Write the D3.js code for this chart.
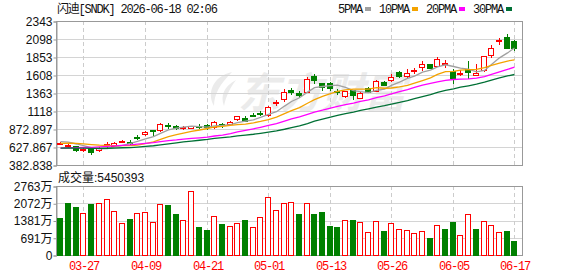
<!DOCTYPE html>
<html>
<head>
<meta charset="utf-8">
<script src="https://cdn.jsdelivr.net/npm/d3@7"></script>
<style>
  body { margin: 0; background: #fff; }
  svg text { font-family: "Liberation Sans", "Noto Sans CJK SC", sans-serif; font-size: 12px; }
  svg text.mono { font-family: "Liberation Mono", "Noto Sans CJK SC", monospace; letter-spacing: -1.2px; }
</style>
</head>
<body>
<div id="chart"></div>
<script>
// SNDK daily k-line, 60 sessions
const title = "闪迪[SNDK] 2026-06-18 02:06"

const dates = ["03-24","03-25","03-26","03-27","03-30","03-31","04-01","04-02","04-06","04-07",
  "04-08","04-09","04-10","04-13","04-14","04-15","04-16","04-17","04-20","04-21",
  "04-22","04-23","04-24","04-27","04-28","04-29","04-30","05-01","05-04","05-05",
  "05-06","05-07","05-08","05-11","05-12","05-13","05-14","05-15","05-18","05-19",
  "05-20","05-21","05-22","05-26","05-27","05-28","05-29","06-01","06-02","06-03",
  "06-04","06-05","06-08","06-09","06-10","06-11","06-12","06-15","06-16","06-17"]

const opens = [673,637,641,592,610,587,658,641,707,700, 768,809,859,855,932,918,897,891,917,923,
  900,935,941,1013,1027,1070,1092,1059,1227,1280, 1410,1365,1383,1590,1495,1495,1385,1318,1400,1299,
  1427,1390,1513,1536,1645,1592,1672,1721,1754,1735, 1769,1662,1630,1694,1612,1672,1880,2075,2125,2071]
const highs = [696,669,648,621,618,628,696,696,727,727, 795,842,866,955,959,932,914,918,941,937,
  975,955,982,1054,1050,1095,1118,1186,1268,1413, 1425,1385,1581,1617,1503,1510,1422,1395,1410,1372,
  1440,1535,1522,1626,1660,1686,1707,1799,1762,1853, 1812,1686,1672,1799,1754,1872,2016,2107,2162,2078]
const lows = [662,632,580,573,537,567,632,635,700,665, 733,791,795,846,891,873,877,884,886,877,
  893,900,927,1000,980,1050,1057,1050,1196,1250, 1350,1315,1370,1503,1400,1400,1345,1310,1277,1290,
  1372,1385,1468,1530,1585,1586,1635,1680,1700,1728, 1721,1503,1604,1571,1605,1665,1853,2026,1975,1944]
const closes = [682,655,591,597,564,614,672,686,716,692, 760,836,840,941,923,882,902,910,906,896,
  968,922,968,1050,986,1063,1084,1172,1235,1370, 1375,1340,1553,1544,1445,1437,1376,1390,1332,1367,
  1381,1526,1476,1581,1590,1635,1680,1754,1707,1822, 1772,1563,1638,1645,1640,1867,1971,2085,1980,1971]

// closes before the window, only needed so the moving averages start where the picture does
const priorCloses = [598,615,630,622,640,618,605,595,610,587, 570,552,538,520,509,531,548,560,547,585,
  618,642,655,668,697, 690,712,716,700]

// volume in shares
const volumes = [14940000,20820000,19220000,16700000,20420000,20700000,22420000,17500000,12690000,14410000,
  16700000,17100000,13090000,20300000,20020000,16420000,13890000,25630000,11210000,10010000,
  15500000,12410000,11490000,12690000,14010000,11090000,15100000,23100000,18020000,20700000,
  21100000,16420000,20700000,16420000,17220000,11610000,11210000,13890000,14010000,13090000,
  9090000,13490000,9610000,12690000,10290000,9890000,8690000,9490000,6810000,11890000,
  10410000,13210000,7890000,16300000,10410000,13490000,11890000,9090000,9610000,5450393]

const priceTicks = [2343, 2098, 1853, 1608, 1363, 1118, 872.897, 627.867, 382.838]
const priceTickLabels = ["2343","2098","1853","1608","1363","1118","872.897","627.867","382.838"]
const volTicks = [0, 6907500, 13815000, 20722500, 27630000]
const volTickLabels = ["0","691万","1381万","2072万","2763万"]
const dateTicks = ["03-27","04-09","04-21","05-01","05-13","05-26","06-05","06-17"]

const maPeriods = [5, 10, 20, 30]
const maNames = ["5PMA", "10PMA", "20PMA", "30PMA"]
const maColors = ["#a0a0a0", "#f4a300", "#ff00ff", "#007035"]

const red = "#ff0000", green = "#008000"
const width = 578, height = 276
const left = 56, right = 522
const priceTop = 21, priceBottom = 165
const volTop = 186, volBottom = 255

const svg = d3.select("#chart").append("svg")
    .attr("width", width)
    .attr("height", height)

const x = d3.scaleBand().domain(dates).range([56.5, 518.2])
const y = d3.scaleLinear().domain([382.838, 2343]).range([priceBottom, priceTop])
const yVol = d3.scaleLinear().domain([0, 27630000]).range([volBottom, volTop])
const cx = d => Math.round(x(d) + x.bandwidth() / 2) + 0.5

// watermark (logo swoosh + name)
let wm = svg.append("g").attr("fill", "#ebebeb")
wm.append("path")
    .attr("d", "M232,72 C214,76 206,92 214,106 C214,94 220,84 232,72 Z M236,80 C224,86 220,96 224,106 C226,96 230,88 236,80 Z")
wm.append("text")
    .attr("x", 238).attr("y", 108)
    .style("font-size", "42px").style("font-weight", "bold").style("font-style", "italic")
    .text("东方财富")

// horizontal grid
svg.append("g")
    .selectAll("line").data(priceTicks).enter().append("line")
    .attr("x1", left).attr("x2", right)
    .attr("y1", d => Math.round(y(d)) + 0.5).attr("y2", d => Math.round(y(d)) + 0.5)
    .attr("stroke", "#d4d4d4")
svg.append("g")
    .selectAll("line").data(volTicks).enter().append("line")
    .attr("x1", left).attr("x2", right)
    .attr("y1", d => Math.round(yVol(d)) + 0.5).attr("y2", d => Math.round(yVol(d)) + 0.5)
    .attr("stroke", "#d4d4d4")

// vertical dashed grid at the date labels
const vgrid = svg.append("g").attr("stroke", "#cccccc").attr("stroke-dasharray", "4,3")
dateTicks.forEach(d => {
    vgrid.append("line").attr("x1", cx(d)).attr("x2", cx(d)).attr("y1", priceTop).attr("y2", priceBottom)
    vgrid.append("line").attr("x1", cx(d)).attr("x2", cx(d)).attr("y1", volTop).attr("y2", volBottom)
})

// frames
const frame = svg.append("g").attr("fill", "none").attr("stroke", "#999").attr("shape-rendering", "crispEdges")
frame.append("rect").attr("x", left + 0.5).attr("y", priceTop + 0.5).attr("width", right - left).attr("height", priceBottom - priceTop)
frame.append("rect").attr("x", left + 0.5).attr("y", volTop + 0.5).attr("width", right - left).attr("height", volBottom - volTop)

// y axes
let yAxis = svg.append("g")
    .attr("transform", "translate(" + (left + 0.5) + ",0.5)")
    .call(d3.axisLeft(y).tickValues(priceTicks).tickFormat((d, i) => priceTickLabels[i]).tickSize(3).tickPadding(1))
let volAxis = svg.append("g")
    .attr("transform", "translate(" + (left + 0.5) + ",0.5)")
    .call(d3.axisLeft(yVol).tickValues(volTicks).tickFormat((d, i) => volTickLabels[i]).tickSize(3).tickPadding(1))
;[yAxis, volAxis].forEach(a => {
    a.select(".domain").attr("stroke", "#999")
    a.selectAll(".tick line").attr("stroke", "#999")
    a.selectAll("text").attr("fill", "#111").style("font-size", "12px")
        .style("font-family", "'Liberation Sans', 'Noto Sans CJK SC', sans-serif")
})

// date labels
svg.append("g")
    .selectAll("text").data(dateTicks).enter().append("text")
    .attr("class", "mono")
    .attr("x", d => cx(d) + 0.6)
    .attr("y", 270)
    .attr("text-anchor", "middle")
    .attr("fill", red)
    .text(d => d)

// candles: red hollow when close >= open, green filled otherwise
const candles = svg.append("g").attr("shape-rendering", "crispEdges")
dates.forEach((d, i) => {
    const c = cx(d)
    const up = closes[i] >= opens[i]
    const col = up ? red : green
    const top = Math.round(y(Math.max(opens[i], closes[i])))
    const bot = Math.round(y(Math.min(opens[i], closes[i])))
    candles.append("line")
        .attr("x1", c).attr("x2", c)
        .attr("y1", Math.round(y(highs[i]))).attr("y2", Math.round(y(lows[i])) + 1)
        .attr("stroke", col)
    candles.append("rect")
        .attr("x", c - 3).attr("y", top + 0.5)
        .attr("width", 5).attr("height", Math.max(bot - top, 1))
        .attr("fill", up ? "#fff" : col)
        .attr("stroke", col)
})

// moving averages
const allCloses = priorCloses.concat(closes)
maPeriods.forEach((p, k) => {
    let ma = dates.map((d, i) => {
        let end = priorCloses.length + i
        return d3.mean(allCloses.slice(end - p + 1, end + 1))
    })
    svg.append("path")
        .datum(ma)
        .attr("fill", "none")
        .attr("stroke", maColors[k])
        .attr("stroke-width", 1.3)
        .attr("d", d3.line()
            .x((v, i) => cx(dates[i]))
            .y(v => y(v))
        )
})

// volume bars, coloured by close against the previous close
const bars = svg.append("g").attr("shape-rendering", "crispEdges")
dates.forEach((d, i) => {
    const prev = i === 0 ? priorCloses[priorCloses.length - 1] : closes[i - 1]
    const up = closes[i] >= prev
    const col = up ? red : green
    const top = Math.round(yVol(volumes[i]))
    bars.append("rect")
        .attr("x", cx(d) - 3).attr("y", top + 0.5)
        .attr("width", 5).attr("height", volBottom - top)
        .attr("fill", up ? "#fff" : col)
        .attr("stroke", col)
})

// title and legend
svg.append("text").attr("class", "mono").attr("x", 57).attr("y", 13).attr("fill", "#111").text(title)
let lx = 338
maNames.forEach((name, k) => {
    svg.append("text").attr("class", "mono").attr("x", lx).attr("y", 13).attr("fill", "#111").text(name)
    lx += name.length * 6 + 3
    svg.append("rect").attr("x", lx).attr("y", 7).attr("width", 6).attr("height", 4).attr("fill", maColors[k])
    lx += 14
})

svg.append("text").attr("x", 58).attr("y", 182).attr("fill", "#111")
    .text("成交量:" + volumes[volumes.length - 1])
</script>
</body>
</html>
